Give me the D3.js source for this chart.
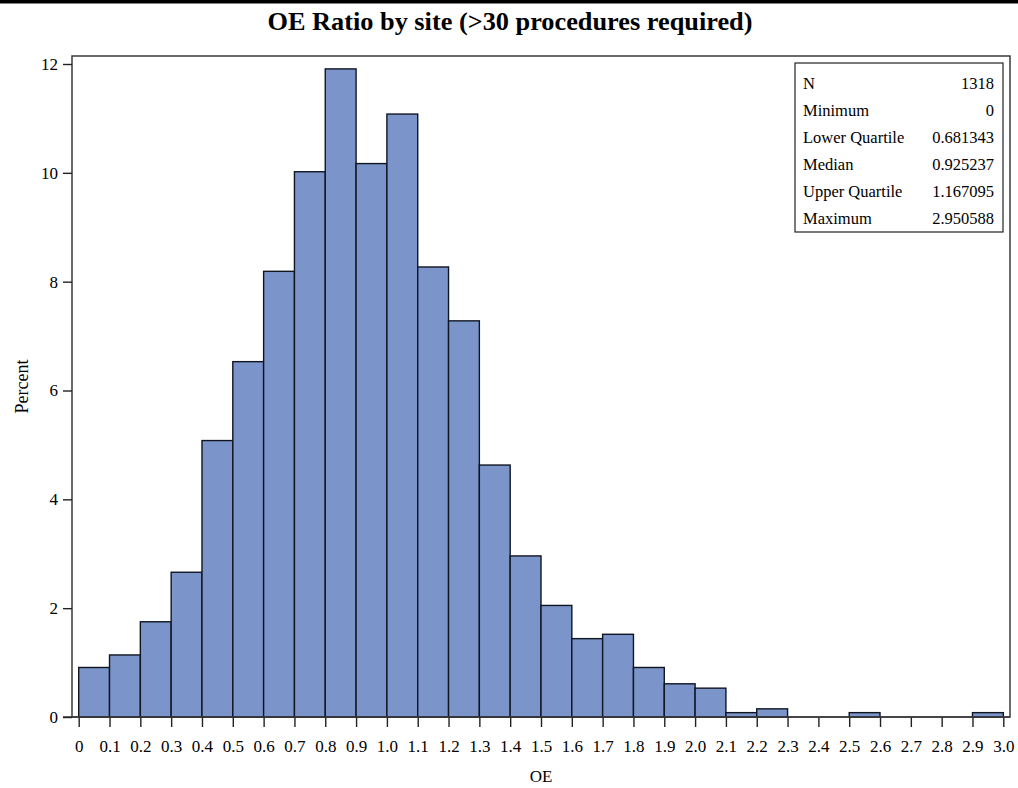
<!DOCTYPE html>
<html>
<head>
<meta charset="utf-8">
<script src="https://cdn.jsdelivr.net/npm/d3@7"></script>
<style>
  html, body { margin: 0; padding: 0; background: #fff; }
  svg { display: block; }
  text { font-family: "Liberation Serif", "Times New Roman", serif; fill: #000; }
</style>
</head>
<body>
<svg id="chart" width="1018" height="788"></svg>
<script>
// Histogram of OE ratio by site: bins of width 0.1 from 0 to 3.0
const binStarts = [0,0.1,0.2,0.3,0.4,0.5,0.6,0.7,0.8,0.9,1.0,1.1,1.2,1.3,1.4,1.5,1.6,1.7,1.8,1.9,2.0,2.1,2.2,2.3,2.4,2.5,2.6,2.7,2.8,2.9];
const binWidth = 0.1;
const percents = [0.91,1.14,1.75,2.66,5.08,6.53,8.19,10.02,11.91,10.17,11.08,8.27,7.28,4.63,2.96,2.05,1.44,1.52,0.91,0.61,0.53,0.08,0.15,0,0,0.08,0,0,0,0.08];

const xTicks = [0,0.1,0.2,0.3,0.4,0.5,0.6,0.7,0.8,0.9,1.0,1.1,1.2,1.3,1.4,1.5,1.6,1.7,1.8,1.9,2.0,2.1,2.2,2.3,2.4,2.5,2.6,2.7,2.8,2.9,3.0];
const xTickLabels = ["0","0.1","0.2","0.3","0.4","0.5","0.6","0.7","0.8","0.9","1.0","1.1","1.2","1.3","1.4","1.5","1.6","1.7","1.8","1.9","2.0","2.1","2.2","2.3","2.4","2.5","2.6","2.7","2.8","2.9","3.0"];
const yTicks = [0,2,4,6,8,10,12];

// Summary statistics inset
const statLabels = ["N","Minimum","Lower Quartile","Median","Upper Quartile","Maximum"];
const statValues = ["1318","0","0.681343","0.925237","1.167095","2.950588"];

const titleText = "OE Ratio by site (>30 procedures required)";
const xLabel = "OE";
const yLabel = "Percent";

const svg = d3.select("#chart");
const frame = { left: 72, right: 1010, top: 56, bottom: 717 };

const x = d3.scaleLinear().domain([0, 3]).range([78.7, 1003.3]);
const y = d3.scaleLinear().domain([0, 12]).range([717, 64]);

// heavy rule across the top of the page
svg.append("rect").attr("x", 0).attr("y", 0).attr("width", 1018).attr("height", 3.5).attr("fill", "#000");

// title
svg.append("text")
  .attr("x", 510).attr("y", 30)
  .attr("text-anchor", "middle")
  .style("font-size", "26px").style("font-weight", "bold")
  .attr("textLength", 485).attr("lengthAdjust", "spacingAndGlyphs")
  .text(titleText);

// plot frame
svg.append("rect")
  .attr("x", frame.left).attr("y", frame.top)
  .attr("width", frame.right - frame.left).attr("height", frame.bottom - frame.top)
  .attr("fill", "none").attr("stroke", "#3a3a3a").attr("stroke-width", 1.5);

// bars
const bins = binStarts.map((s, i) => ({ x0: s, x1: s + binWidth, v: percents[i] })).filter(d => d.v > 0);
svg.append("g").selectAll("rect").data(bins).join("rect")
  .attr("x", d => x(d.x0))
  .attr("y", d => y(d.v))
  .attr("width", d => x(d.x1) - x(d.x0))
  .attr("height", d => y(0) - y(d.v))
  .attr("fill", "#7b95ca")
  .attr("stroke", "#101522")
  .attr("stroke-width", 1.4);

// x axis
const xAxis = d3.axisBottom(x)
  .tickValues(xTicks)
  .tickFormat((d, i) => xTickLabels[i])
  .tickSize(10)
  .tickPadding(13);
const gx = svg.append("g").attr("transform", `translate(0,${frame.bottom})`).call(xAxis);
gx.select(".domain").remove();
gx.append("line").attr("x1", 63).attr("x2", frame.right).attr("y1", 0).attr("y2", 0)
  .attr("stroke", "#3a3a3a").attr("stroke-width", 1.5);
gx.selectAll(".tick line").attr("stroke", "#222").attr("stroke-width", 1.4);
gx.selectAll(".tick text")
  .style("font-family", '"Liberation Serif", "Times New Roman", serif')
  .style("font-size", "17px").attr("fill", "#000");

// y axis
const yAxis = d3.axisLeft(y)
  .tickValues(yTicks)
  .tickFormat(d3.format("d"))
  .tickSize(9)
  .tickPadding(5);
const gy = svg.append("g").attr("transform", `translate(${frame.left},0)`).call(yAxis);
gy.select(".domain").remove();
gy.selectAll(".tick line").attr("stroke", "#222").attr("stroke-width", 1.4);
gy.selectAll(".tick text")
  .style("font-family", '"Liberation Serif", "Times New Roman", serif')
  .style("font-size", "17px").attr("fill", "#000");

// axis labels
svg.append("text")
  .attr("x", (frame.left + frame.right) / 2).attr("y", 782)
  .attr("text-anchor", "middle").style("font-size", "17px")
  .text(xLabel);
svg.append("text")
  .attr("transform", `translate(28,${(frame.top + frame.bottom) / 2}) rotate(-90)`)
  .attr("text-anchor", "middle").style("font-size", "18px")
  .text(yLabel);

// statistics inset
const box = { x: 795, y: 63, w: 208, h: 169 };
const inset = svg.append("g");
inset.append("rect")
  .attr("x", box.x).attr("y", box.y).attr("width", box.w).attr("height", box.h)
  .attr("fill", "#fff").attr("stroke", "#222").attr("stroke-width", 1.2);
const rowY = d3.scalePoint().domain(statLabels).range([box.y + 20, box.y + 155]);
inset.selectAll("text.lab").data(statLabels).join("text")
  .attr("class", "lab")
  .attr("x", box.x + 8).attr("y", d => rowY(d))
  .attr("dy", "0.35em").style("font-size", "16.5px")
  .text(d => d);
inset.selectAll("text.val").data(statLabels).join("text")
  .attr("class", "val")
  .attr("x", box.x + box.w - 9).attr("y", d => rowY(d))
  .attr("dy", "0.35em").attr("text-anchor", "end").style("font-size", "16.5px")
  .text((d, i) => statValues[i]);
</script>
</body>
</html>
